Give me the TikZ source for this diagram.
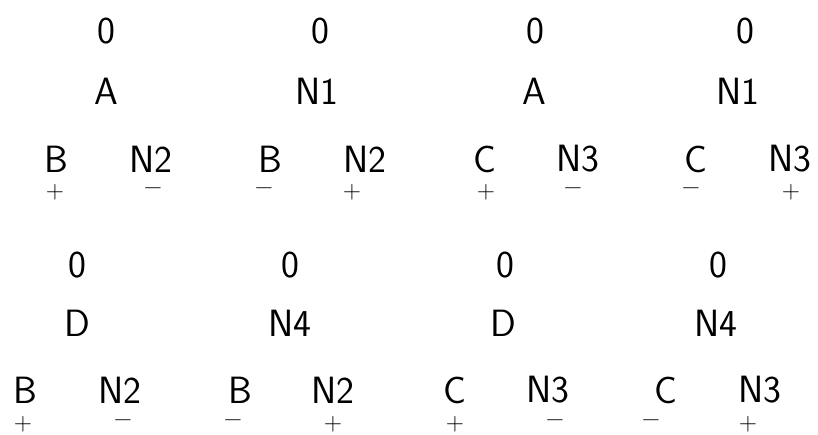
\documentclass[tikz,border=0pt]{standalone}
\usepackage{fontspec}
\usepackage{tikz}
\usetikzlibrary{positioning}

\begin{document}
\begin{tikzpicture}[
				x=1pt, y=-1pt,
				lbl/.style={
					inner sep=0pt, font=\fontsize{38}{38}\selectfont\sffamily
				},
				sgn/.style={
					inner sep=0pt, font=\fontsize{25}{25}\selectfont\sffamily
				}
				]
				\useasboundingbox (0,0) rectangle (818,434);
				
				% first tree: A
				\node[lbl] (ra) at (106,31) {0};
				\node[lbl] (a) at (106,91) {A};
				\node[lbl] (ba) at (56,159) {B};
				\node[lbl] (nba) at (151,159) {N2};
				\node[sgn] (pba) at (55,192) {+};
				\node[sgn] (mba) at (153,191) {−};
				
				% second tree: N1
				\node[lbl] (rb) at (320,31) {0};
				\node[lbl] (na) at (317,91) {N1};
				\node[lbl] (bb) at (270,159) {B};
				\node[lbl] (nbb) at (365,159) {N2};
				\node[sgn] (mbb) at (264,191) {−};
				\node[sgn] (pbb) at (352,192) {+};
				
				% third tree: A
				\node[lbl] (rc) at (535,31) {0};
				\node[lbl] (ac) at (534,91) {A};
				\node[lbl] (ca) at (485,159) {C};
				\node[lbl] (nca) at (578,159) {N3};
				\node[sgn] (pca) at (486,192) {+};
				\node[sgn] (mca) at (573,191) {−};
				
				% fourth tree: N1
				\node[lbl] (rd) at (745,31) {0};
				\node[lbl] (nd) at (738,91) {N1};
				\node[lbl] (cb) at (696,159) {C};
				\node[lbl] (ncb) at (790,159) {N3};
				\node[sgn] (mcb) at (691,191) {−};
				\node[sgn] (pcb) at (791,192) {+};
				
				% fifth tree: D
				\node[lbl] (re) at (77,265) {0};
				\node[lbl] (d) at (77,323) {D};
				\node[lbl] (bc) at (25,390) {B};
				\node[lbl] (nbc) at (120,390) {N2};
				\node[sgn] (pbc) at (23,424) {+};
				\node[sgn] (mbc) at (123,423) {−};
				
				% sixth tree: N4
				\node[lbl] (rf) at (290,265) {0};
				\node[lbl] (nf) at (290,323) {N4};
				\node[lbl] (bd) at (240,390) {B};
				\node[lbl] (nbd) at (333,390) {N2};
				\node[sgn] (mbd) at (233,423) {−};
				\node[sgn] (pbd) at (333,424) {+};
				
				% seventh tree: D
				\node[lbl] (rg) at (505,265) {0};
				\node[lbl] (dg) at (503,323) {D};
				\node[lbl] (cc) at (455,390) {C};
				\node[lbl] (ncc) at (548,390) {N3};
				\node[sgn] (pcc) at (455,424) {+};
				\node[sgn] (mcc) at (555,423) {−};
				
				% eighth tree: N4
				\node[lbl] (rh) at (718,265) {0};
				\node[lbl] (nh) at (716,323) {N4};
				\node[lbl] (cd) at (666,390) {C};
				\node[lbl] (ncd) at (760,390) {N3};
				\node[sgn] (mcd) at (651,423) {−};
				\node[sgn] (pcd) at (748,424) {+};
			\end{tikzpicture}
\end{document}
